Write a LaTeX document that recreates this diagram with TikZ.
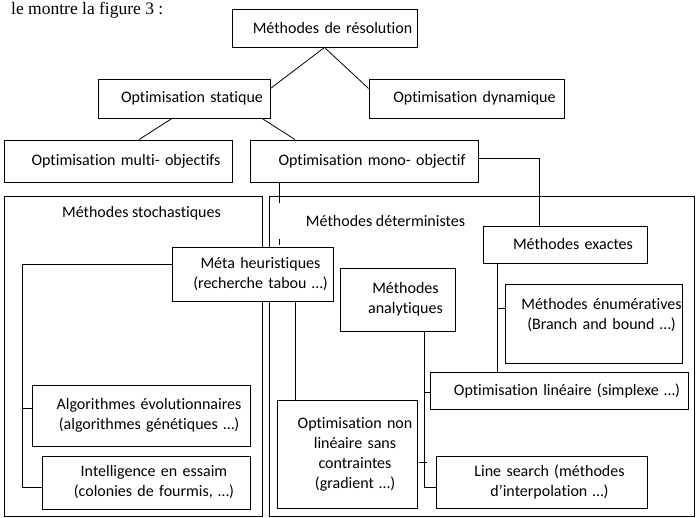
\documentclass[tikz,border=0pt]{standalone}
\usepackage{fontspec}
\setmainfont{Carlito}[Ligatures=CommonOff]
\newfontfamily\introfont{Liberation Serif}
\usetikzlibrary{backgrounds}

\begin{document}
\begin{tikzpicture}[x=1pt, y=-1pt,
	every node/.style={font=\fontsize{16}{20}\selectfont},
	box/.style={draw, fill=white, line width=0.9pt, inner xsep=0pt, inner ysep=2pt, align=center,
		execute at begin node={\leftskip=16pt plus 1fil\rightskip=0pt plus 1fil\parfillskip=0pt}},
	frame/.style={draw, line width=0.9pt, inner sep=0pt},
	title/.style={inner sep=0pt},
	link/.style={line width=0.8pt}]
\useasboundingbox (0,0) rectangle (699,518);

\node[anchor=base west, inner sep=0pt, font=\introfont\fontsize{17.5}{20}\selectfont] (intro) at (11,15) {le montre la figure 3 :};

% cadres
\node[frame, minimum width=258, minimum height=320] (stoch) at (133,356) {};
\node[frame, minimum width=425, minimum height=320] (determ) at (481.5,356) {};
\node[title] (stochtitle) at (141.5,213) {Méthodes stochastiques};
\node[title] (determtitle) at (385.5,221) {Méthodes déterministes};

% boites
\node[box, text width=185, minimum height=38] (res) at (324.5,28) {Méthodes de résolution};
\node[box, text width=172, minimum height=39] (stat) at (184,98.5) {Optimisation statique};
\node[box, text width=195, minimum height=39] (dyn) at (466.5,98.5) {Optimisation dynamique};
\node[box, text width=228, minimum height=42] (multi) at (118,161) {Optimisation multi- objectifs};
\node[box, text width=228, minimum height=42] (mono) at (364,161) {Optimisation mono- objectif};
\node[box, text width=161, minimum height=54] (meta) at (252.5,274) {Méta heuristiques\\\mbox{(recherche tabou …)}};
\node[box, text width=218, minimum height=61] (algo) at (141,415.5) {Algorithmes évolutionnaires\\(algorithmes génétiques …)};
\node[box, text width=208, minimum height=53] (essaim) at (146,482.5) {Intelligence en essaim\\(colonies de fourmis, …)};
\node[box, text width=115, minimum height=63] (ana) at (397.5,299.5) {Méthodes\\analytiques};
\node[box, text width=140, minimum height=108] (nonlin) at (347,454) {\mbox{Optimisation non}\\linéaire sans\\contraintes\\(gradient …)};
\node[box, text width=164, minimum height=37] (exactes) at (565,244.5) {Méthodes exactes};
\node[box, text width=177, minimum height=79] (enum) at (593.5,323.5) {\mbox{Méthodes énumératives}\\(Branch and bound …)\\\mbox{}};
\node[box, text width=258, minimum height=37] (lin) at (559,390.5) {Optimisation linéaire (simplexe …)};
\node[box, text width=211, minimum height=52] (search) at (541.5,482) {Line search (méthodes\\d’interpolation …)};

\coordinate (monostub) at (279,203);
\coordinate (monotick a) at (279,239);
\coordinate (monotick b) at (279,245);
\coordinate (anatick a) at (419,462);
\coordinate (anatick b) at (427,462);

\begin{scope}[on background layer]
\draw[link] (res.south) -- ([yshift=10pt]stat.east);
\draw[link] (res.south) -- ([yshift=10pt]dyn.west);
\draw[link] ([xshift=-12pt]stat.south) -- ([xshift=21pt]multi.north);
\draw[link] ([xshift=78pt]stat.south) -- ([xshift=-69pt]mono.north);
\draw[link] ([yshift=3pt]mono.east) -| ([xshift=-26pt]exactes.north);
\draw[link] ([xshift=-85pt]mono.south) -- (monostub);
\draw[link] (monotick a) -- (monotick b);
\draw[link] ([yshift=10pt]meta.west) -- ++(-149,0) |- ([yshift=-4.5pt]essaim.west);
\draw[link] ([yshift=7.5pt]algo.west) -- ++(-9,0);
\draw[link] ([xshift=42.5pt]meta.south) -- ([xshift=-52pt]nonlin.north);
\draw[link] ([xshift=26.5pt]ana.south) |- ([yshift=-5pt]search.west);
\draw[link] ([yshift=-1.5pt]lin.west) -- ++(-6,0);
\draw[link] (anatick a) -- (anatick b);
\draw[link] ([xshift=-68pt]exactes.south) -- ([xshift=-62pt]lin.north);
\draw[link] ([yshift=15.5pt]enum.west) -- ++(-8,0);
\end{scope}
\end{tikzpicture}
\end{document}
